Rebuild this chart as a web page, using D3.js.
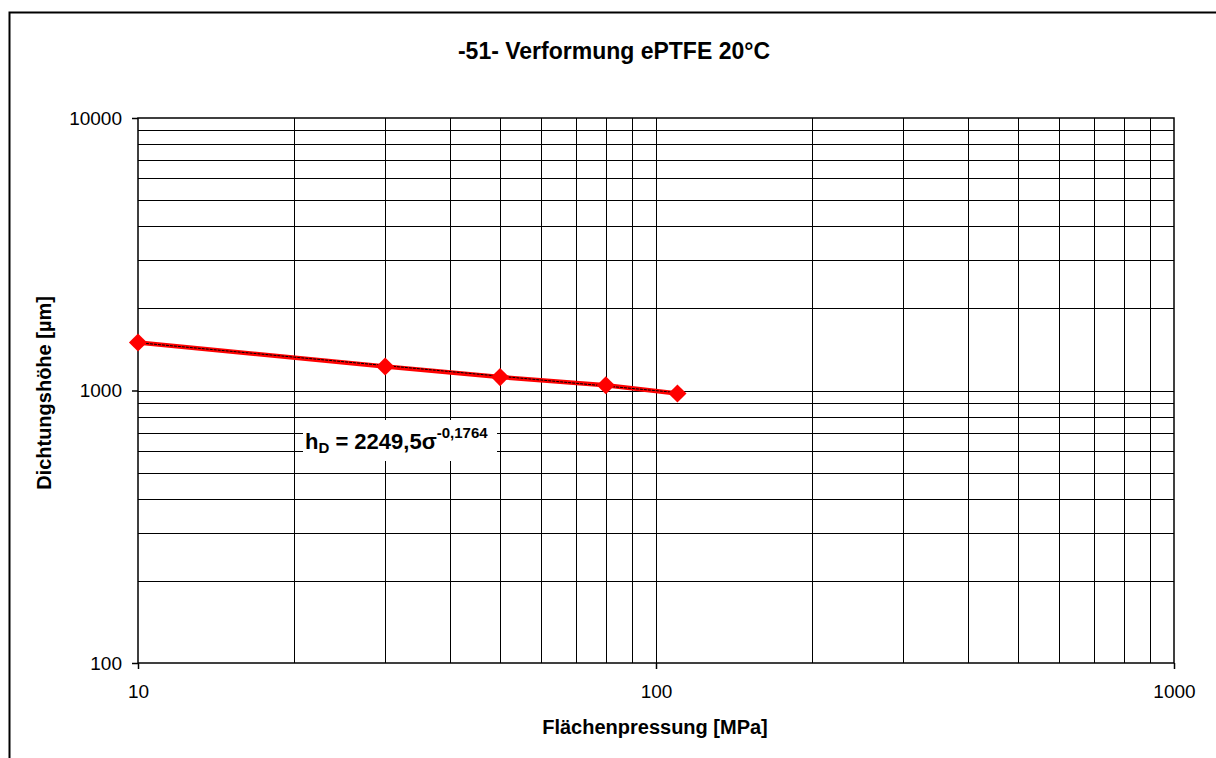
<!DOCTYPE html>
<html>
<head>
<meta charset="utf-8">
<script src="https://cdn.jsdelivr.net/npm/d3@7"></script>
<style>
  body { margin: 0; background: #fff; }
  svg { display: block; font-family: "Liberation Sans", Arial, sans-serif; }
</style>
</head>
<body>
<div id="vis"></div>
<script>
// measured points (Flächenpressung MPa -> Dichtungshöhe µm)
var pressure = [10, 30, 50, 80, 110];
var height_um = [1500, 1225, 1120, 1045, 975];

var trendX = [10, 110];
var trendY = [1498, 982];

var xTicks = [10, 100, 1000];
var yTicks = [100, 1000, 10000];
var xGrid = [20, 30, 40, 50, 60, 70, 80, 90, 100, 200, 300, 400, 500, 600, 700, 800, 900];
var yGrid = [200, 300, 400, 500, 600, 700, 800, 900, 1000, 2000, 3000, 4000, 5000, 6000, 7000, 8000, 9000];

var width = 1216,
	height = 758;

var plotL = 138, plotR = 1174, plotT = 118, plotB = 663;

var x = d3.scaleLog().domain([10, 1000]).range([plotL, plotR]),
	y = d3.scaleLog().domain([100, 10000]).range([plotB, plotT]);

var svg = d3.select('#vis')
	.append('svg')
	.attr('width', width)
	.attr('height', height);

// outer chart frame (right and bottom edges run off the picture)
svg.append('rect')
	.attr('x', 9.5).attr('y', 12.5)
	.attr('width', 1220).attr('height', 760)
	.style('fill', '#fff')
	.style('stroke', '#000')
	.style('stroke-width', 2);

// grid
var grid = svg.append('g').attr('shape-rendering', 'crispEdges');
grid.selectAll('line.vx')
	.data(xGrid)
	.enter().append('line')
	.attr('class', 'vx')
	.attr('x1', function(d) { return Math.round(x(d)) + 0.5; })
	.attr('x2', function(d) { return Math.round(x(d)) + 0.5; })
	.attr('y1', plotT).attr('y2', plotB)
	.style('stroke', '#000').style('stroke-width', 1);
grid.selectAll('line.hy')
	.data(yGrid)
	.enter().append('line')
	.attr('class', 'hy')
	.attr('y1', function(d) { return Math.round(y(d)) + 0.5; })
	.attr('y2', function(d) { return Math.round(y(d)) + 0.5; })
	.attr('x1', plotL).attr('x2', plotR)
	.style('stroke', '#000').style('stroke-width', 1);

// plot border
svg.append('rect')
	.attr('x', plotL).attr('y', plotT)
	.attr('width', plotR - plotL).attr('height', plotB - plotT)
	.style('fill', 'none')
	.style('stroke', '#000')
	.style('stroke-width', 1.5);

// axes
var xAxis = svg.append('g')
	.attr('transform', 'translate(0,' + plotB + ')')
	.call(d3.axisBottom(x).tickValues(xTicks).tickSize(6).tickPadding(16).tickFormat(d3.format('d')));
var yAxis = svg.append('g')
	.attr('transform', 'translate(' + plotL + ',0)')
	.call(d3.axisLeft(y).tickValues(yTicks).tickSize(6).tickPadding(10).tickFormat(d3.format('d')));

[xAxis, yAxis].forEach(function(a) {
	a.select('.domain').remove();
	a.selectAll('line').style('stroke', '#000').style('stroke-width', 1.5);
	a.selectAll('text')
		.style('font-family', '"Liberation Sans", Arial, sans-serif')
		.style('font-size', '19px')
		.style('fill', '#000');
});

// data line + markers
var line = d3.line()
	.x(function(d) { return x(d[0]); })
	.y(function(d) { return y(d[1]); });

var pts = pressure.map(function(p, i) { return [p, height_um[i]]; });

svg.append('path')
	.datum(pts)
	.attr('d', line)
	.style('fill', 'none')
	.style('stroke', '#ff0000')
	.style('stroke-width', 4.5);

svg.append('path')
	.datum(trendX.map(function(p, i) { return [p, trendY[i]]; }))
	.attr('d', line)
	.style('fill', 'none')
	.style('stroke', '#000')
	.style('stroke-width', 1)
	.style('stroke-dasharray', '3,1');

svg.selectAll('path.marker')
	.data(pts)
	.enter().append('path')
	.attr('class', 'marker')
	.attr('d', d3.symbol().type(d3.symbolDiamond2).size(210))
	.attr('transform', function(d) { return 'translate(' + x(d[0]) + ',' + y(d[1]) + ')'; })
	.style('fill', '#ff0000');

// trendline equation
svg.append('rect')
	.attr('x', 303).attr('y', 420)
	.attr('width', 194).attr('height', 41)
	.style('fill', '#fff');

var eq = svg.append('text')
	.attr('x', 305).attr('y', 449)
	.style('font-size', '22px')
	.style('font-weight', 'bold');
eq.append('tspan').text('h');
eq.append('tspan').attr('dy', 4).style('font-size', '15px').text('D');
eq.append('tspan').attr('dy', -4).text(' = 2249,5σ');
eq.append('tspan').attr('dy', -11).style('font-size', '15px').text('-0,1764');

// titles
svg.append('text')
	.attr('x', 614).attr('y', 59)
	.attr('text-anchor', 'middle')
	.style('font-size', '23px')
	.style('font-weight', 'bold')
	.text('-51- Verformung ePTFE 20°C');

svg.append('text')
	.attr('x', 655).attr('y', 734)
	.attr('text-anchor', 'middle')
	.style('font-size', '20px')
	.style('font-weight', 'bold')
	.text('Flächenpressung [MPa]');

svg.append('text')
	.attr('transform', 'translate(51,393) rotate(-90)')
	.attr('text-anchor', 'middle')
	.style('font-size', '20px')
	.style('font-weight', 'bold')
	.text('Dichtungshöhe [µm]');
</script>
</body>
</html>
